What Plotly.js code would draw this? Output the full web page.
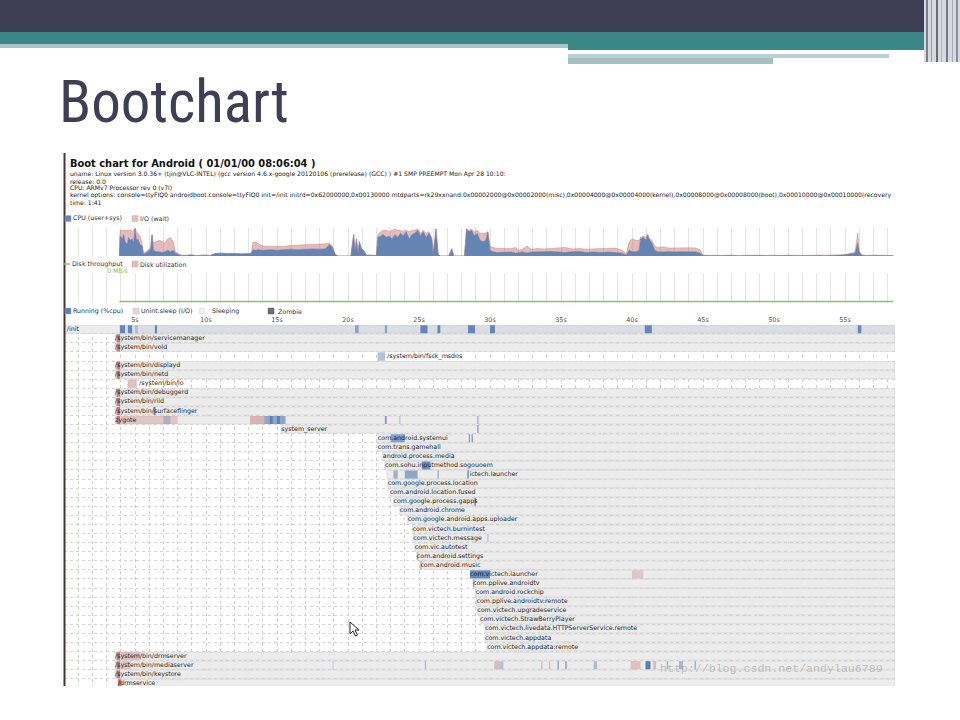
<!DOCTYPE html>
<html><head><meta charset="utf-8">
<script src="https://cdn.plot.ly/plotly-3.0.1.min.js"></script>
<style>html,body{margin:0;padding:0;background:#fff;}#c{width:960px;height:720px;}</style>
</head><body><div id="c"></div>
<script>
// ---------------- DATA ----------------
// CPU chart (seconds, % user+sys, % io wait)
const cpuTime = [
 3.9,3.95,4.1,4.2,4.3,4.45,4.55,4.7,4.8,4.9,
 5.0,5.1,5.2,5.35,5.5,5.6,5.75,5.9,6.1,6.2,
 6.3,6.5,6.7,6.9,7.1,7.3,7.5,7.7,7.85,8.0,
 8.2,8.5,9.0,9.3,9.8,10.3,10.6,11.0,11.5,12.0,
 12.5,13.0,13.2,13.3,13.5,13.7,14.0,14.5,15.0,15.5,
 16.0,16.5,17.0,17.5,18.0,18.4,18.7,18.9,19.1,19.3,
 20.2,20.4,20.5,20.6,20.7,20.8,20.95,21.1,21.3,22.0,
 22.1,22.3,22.5,22.7,22.9,23.1,23.3,23.5,23.7,23.9,
 24.1,24.3,24.5,24.7,24.9,25.1,25.3,25.5,25.7,25.9,
 26.0,26.2,26.35,26.5,27.1,27.3,27.45,28.2,28.35,28.5,
 28.7,28.9,29.1,29.3,29.5,29.7,29.85,30.0,30.2,30.5,
 31.0,31.5,31.8,32.0,32.3,32.6,32.9,33.3,33.8,34.3,
 34.8,35.3,35.8,36.3,36.8,37.3,37.8,38.3,38.8,39.3,
 39.6,39.8,40.0,40.3,40.5,40.6,40.8,41.0,41.1,41.2,
 41.4,41.6,41.8,42.2,42.6,43.0,43.5,44.0,44.5,44.8,
 45.0,45.5,46.0,46.5,47.0,47.5,48.0,48.5,49.0,49.5,
 50.0,50.5,51.0,51.5,52.0,52.5,53.0,53.5,54.0,54.5,
 55.0,55.4,55.7,55.9,56.0,56.2,56.5,57.0,57.5,58.0,58.4];
const cpuUser = [
 0,70,60,75,50,40,65,55,60,45,
 95,55,60,40,35,5,10,15,25,75,
 20,15,15,12,15,20,15,20,10,8,
 3,2,4,1,3,2,8,10,8,9,
 7,8,10,22,20,22,20,22,20,22,
 24,22,24,25,24,25,40,30,5,0,
 0,75,20,60,10,50,25,20,3,2,
 65,70,75,65,70,60,75,65,80,70,
 85,60,75,80,90,70,85,65,80,60,
 5,95,5,0,0,25,0,0,95,85,
 90,70,80,55,50,55,85,20,15,12,
 12,14,10,12,14,10,14,14,15,16,
 14,12,15,16,12,14,12,14,12,10,
 3,20,15,15,20,60,65,55,75,60,
 45,20,15,14,16,14,15,14,14,10,
 2,1,2,1,2,1,2,1,2,1,
 2,1,2,1,2,1,2,1,2,2,
 4,8,10,45,12,3,1,2,1,2,1];
const cpuIO = [
 0,20,30,15,40,50,25,35,25,45,
 5,30,20,30,10,5,5,5,5,0,
 25,35,40,40,30,40,50,30,5,2,
 0,0,0,0,0,0,0,0,1,1,
 1,1,2,25,30,20,15,12,14,12,
 13,16,16,14,16,18,5,5,0,0,
 0,0,0,0,0,0,0,0,0,0,
 10,15,15,25,15,30,20,25,10,15,
 5,25,15,10,5,10,5,15,5,5,
 0,0,0,0,0,0,0,0,0,5,
 5,15,10,25,30,25,0,15,15,15,
 14,12,20,8,10,25,10,12,10,10,
 14,18,10,10,12,12,14,12,16,10,
 5,30,45,40,35,5,5,10,0,5,
 10,15,15,18,12,14,14,15,14,12,
 1,1,0,1,1,0,1,1,0,1,
 1,0,1,1,1,0,1,1,1,1,
 1,2,2,36,4,1,1,1,1,1,1];

// Disk throughput (MB/s)
const diskTime = [3.9, 58.4];
const diskTput = [0, 0];

// Processes
const procNames = [
 "/init","/system/bin/servicemanager","/system/bin/vold","/system/bin/fsck_msdos",
 "/system/bin/displayd","/system/bin/netd","/system/bin/lo","/system/bin/debuggerd",
 "/system/bin/rild","/system/bin/surfaceflinger","zygote","system_server",
 "com.android.systemui","com.trans.gamehall","android.process.media",
 "com.sohu.inputmethod.sogouoem","ictech.launcher","com.google.process.location",
 "com.android.location.fused","com.google.process.gapps","com.android.chrome",
 "com.google.android.apps.uploader","com.victech.burnintest","com.victech.message",
 "com.vic.autotest","com.android.settings","com.android.music","com.victech.launcher",
 "com.pplive.androidtv","com.android.rockchip","com.pplive.androidtv:remote",
 "com.victech.upgradeservice","com.victech.StrawBerryPlayer",
 "com.victech.livedata.HTTPServerService.remote","com.victech.appdata",
 "com.victech.appdata:remote","/system/bin/drmserver","/system/bin/mediaserver",
 "/system/bin/keystore","/drmservice"];
const procStart = [
 0,3.6,3.6,22.1,3.6,3.6,4.5,3.6,3.6,3.6,3.6,15.3,
 22.1,22.1,22.45,22.6,22.75,22.8,22.95,23.2,23.65,24.2,24.55,24.6,24.7,24.85,25.1,
 28.6,28.8,29.0,29.05,29.1,29.3,29.65,29.65,29.8,3.6,3.6,3.6,3.8];
const procEnd = [
 58.5,58.5,58.5,22.6,58.5,58.5,5.1,58.5,58.5,58.5,58.5,58.5,
 58.5,58.5,58.5,58.5,58.5,58.5,58.5,58.5,58.5,58.5,58.5,58.5,58.5,58.5,58.5,
 58.5,58.5,58.5,58.5,58.5,58.5,58.5,58.5,58.5,58.5,58.5,58.5,58.5];
const procLabelTime = [
 0.2,3.6,3.6,22.75,3.6,3.6,5.3,3.6,3.6,3.6,3.6,15.3,
 22.1,22.1,22.45,22.6,28.55,22.8,22.95,23.2,23.65,24.2,24.55,24.6,24.7,24.85,25.1,
 28.6,28.8,29.0,29.05,29.1,29.3,29.65,29.65,29.8,3.6,3.6,3.6,3.8];

// Process state segments: row, start, end, kind (R running / D uninterruptible), intensity
const segRow   = [0,0,0,0,0,0,0,0,0,0,0,0,0, 1,2,4,5,7,8,9, 9,6,3,
  10,10,10,10,10,10,10,10,10,10, 11, 12,12,12, 15, 16,16,16,16, 19, 23, 25, 26, 27,27, 28,
  36,36, 37,37,37,37,37,37,37,37,37,37,37,37,37,37,37,37,37, 38, 39];
const segStart = [3.9,3.94,4.5,5.0,6.4,20.5,22.6,25.1,26.3,28.45,30.0,40.9,55.9,
  3.7,3.7,3.7,3.7,3.7,3.7,3.7, 6.3,4.5,22.1,
  3.7,4.0,7.0,13.1,14.1,14.5,15.0,22.6,23.6,29.1, 29.1, 23.0,28.5,28.7, 25.2,
  23.2,24.0,26.3,28.4, 28.9, 29.8, 24.85, 25.1, 28.6,40.0, 28.8,
  3.7,4.0, 3.7,4.0,18.9,25.4,30.3,30.6,33.6,34.15,34.75,35.3,37.3,39.9,40.95,41.5,42.45,43.3,44.4,
  3.7, 3.8];
const segEnd   = [58.5,4.3,4.8,5.2,6.55,20.75,22.75,25.6,26.5,28.95,30.35,41.4,56.15,
  3.95,3.95,3.95,3.95,3.95,3.95,3.95, 6.45,5.1,22.6,
  3.95,8.0,7.5,14.1,15.6,14.7,15.2,22.72,23.7,29.2, 29.2, 24.0,28.6,28.8, 25.8,
  23.5,24.9,26.4,28.5, 29.0, 29.9, 24.95, 25.2, 30.0,40.8, 28.9,
  3.95,5.4, 3.95,4.7,19.0,25.5,30.6,30.95,33.7,34.25,34.85,35.4,37.55,40.6,41.3,41.7,42.55,43.6,44.5,
  3.95, 4.05];
const segKind  = ["R","R","R","R","R","R","R","R","R","R","R","R","R",
  "D","D","D","D","D","D","D", "R","D","R",
  "D","D","R","D","R","R","R","R","R","R", "R", "R","R","R", "R",
  "R","R","R","R", "R", "R", "D", "D", "R","D", "D",
  "D","D", "D","D","R","R","D","R","D","D","R","R","R","D","R","D","R","R","R",
  "D", "D"];
const segLevel = [0.12,0.85,0.85,0.3,0.85,0.6,0.6,0.85,0.85,0.85,0.85,0.85,0.85,
  0.9,0.9,0.9,0.9,0.9,0.9,0.9, 0.8,0.35,0.35,
  0.9,0.3,0.3,0.45,0.6,0.85,0.85,0.75,0.3,0.5, 0.6, 0.65,0.6,0.6, 0.8,
  0.5,0.6,0.5,0.85, 0.85, 0.3, 0.5, 0.5, 0.85,0.3, 0.6,
  0.9,0.35, 0.9,0.3,0.2,0.4,0.4,0.35,0.4,0.4,0.6,0.7,0.4,0.35,0.95,0.4,0.5,0.45,0.5,
  0.9, 0.9];

const timeTickValues = [5,10,15,20,25,30,35,40,45,50,55];

// ---------------- HELPERS ----------------
const W = 960, H = 720;
const px = v => v / W;
const py = v => 1 - v / H;
const T_END = (895 - 64) / 14.2;
const FONT = 'DejaVu Sans, Verdana, sans-serif';

function txt(text, x, y, size, color, extra) {
  return Object.assign({
    text: text, x: px(x), y: py(y), xref: 'paper', yref: 'paper',
    xanchor: 'left', yanchor: 'middle', showarrow: false,
    font: {family: FONT, size: size, color: color || '#222'}
  }, extra || {});
}
function rect(x0, y0, x1, y1, fill, line) {
  return {type: 'rect', xref: 'paper', yref: 'paper', x0: px(x0), x1: px(x1), y0: py(y1), y1: py(y0),
    fillcolor: fill, line: line || {width: 0}, layer: 'above'};
}
function pathPx(pts) {
  return 'M' + pts.map(p => px(p[0]).toFixed(5) + ',' + py(p[1]).toFixed(5)).join('L') + 'Z';
}

// ---------------- TRACES ----------------
const traces = [];
traces.push({x: cpuTime, y: cpuUser, xaxis: 'x', yaxis: 'y', type: 'scatter', mode: 'lines',
  stackgroup: 'cpu', fillcolor: 'rgb(100,132,180)', line: {color: 'rgb(92,124,172)', width: 0.6}, hoverinfo: 'skip'});
traces.push({x: cpuTime, y: cpuIO, xaxis: 'x', yaxis: 'y', type: 'scatter', mode: 'lines',
  stackgroup: 'cpu', fillcolor: 'rgba(206,132,128,0.55)', line: {color: 'rgba(200,120,118,0.7)', width: 0.6}, hoverinfo: 'skip'});

traces.push({x: diskTime, y: diskTput, xaxis: 'x2', yaxis: 'y2', type: 'scatter', mode: 'lines',
  line: {color: '#86c26e', width: 1.6}, hoverinfo: 'skip'});

const rowIdx = procNames.map((_, i) => i + 0.5);
traces.push({type: 'bar', orientation: 'h', xaxis: 'x3', yaxis: 'y3',
  y: rowIdx, base: procStart, x: procStart.map((s, i) => procEnd[i] - s), width: 0.88,
  marker: {color: '#ececec', line: {color: '#d2d2d2', width: 0.6}}, hoverinfo: 'skip'});
traces.push({type: 'bar', orientation: 'h', xaxis: 'x3', yaxis: 'y3',
  y: segRow.map(r => r + 0.5), base: segStart, x: segStart.map((s, i) => segEnd[i] - s), width: 0.88,
  marker: {color: segKind.map((k, i) => k === 'R'
      ? 'rgba(80,120,180,' + segLevel[i] + ')'
      : 'rgba(200,110,110,' + segLevel[i] + ')'), line: {width: 0}}, hoverinfo: 'skip'});
traces.push({type: 'scatter', mode: 'text', xaxis: 'x3', yaxis: 'y3',
  x: procLabelTime, y: rowIdx, text: procNames, textposition: 'middle right',
  textfont: {family: FONT, size: 6.3, color: '#1e1e1e'}, cliponaxis: false, hoverinfo: 'skip'});

// ---------------- LAYOUT ----------------
const xDom = [px(64), px(895)];
const allSec = [];
for (let s = 1; s <= 58; s++) allSec.push(s);

const shapes = [
  // slide decoration
  rect(0, 0, 960, 32, '#3e3f55'),
  rect(0, 32, 960, 44, '#3b8686'),
  rect(0, 44, 568, 48, '#a6c5c6'),
  rect(568, 44, 960, 50, '#3b8686'),
  rect(568, 50, 889, 53, '#ffffff'),
  rect(568, 54, 889, 58, '#b8d0d1'),
  rect(568, 58, 773, 64, '#a3c1c3'),
  rect(924, 0, 960, 62, '#d7d9de'),
  rect(926, 0, 928, 62, '#7c7e90'),
  rect(931, 0, 932, 62, '#9a9cab'),
  rect(936, 0, 938, 62, '#686a80'),
  rect(941, 0, 942, 62, '#b0b2bf'),
  rect(946, 0, 948, 62, '#75778b'),
  rect(952, 0, 953, 62, '#a8aab8'),
  rect(956, 0, 958, 62, '#8a8c9c'),
  // screenshot left border
  rect(63.5, 153, 65.5, 686, '#4a3232'),
  // CPU legend
  rect(65, 215.5, 71, 221.5, 'rgb(100,132,180)', {color: '#9fb3cf', width: 0.5}),
  rect(132, 215.5, 138, 221.5, 'rgba(206,132,128,0.55)', {color: '#d9b3b3', width: 0.5}),
  // Disk legend
  {type: 'line', xref: 'paper', yref: 'paper', x0: px(64), x1: px(70), y0: py(264), y1: py(264), line: {color: '#86c26e', width: 1.5}},
  rect(132, 261, 138, 267, 'rgba(206,132,128,0.55)', {color: '#d9b3b3', width: 0.5}),
  // Process legend
  rect(65, 308, 71, 314, 'rgb(90,126,180)', {color: '#9fb3cf', width: 0.5}),
  rect(133, 308, 139, 314, '#e8d2d2', {color: '#d8c4c4', width: 0.5}),
  rect(199, 308, 205, 314, '#f0f0f0', {color: '#e0e0e0', width: 0.5}),
  rect(268, 308, 274, 314, '#6e6e6e', {color: '#606060', width: 0.5}),
  // mouse cursor
  {type: 'path', xref: 'paper', yref: 'paper', layer: 'above',
   path: pathPx([[350,622],[350,634],[353,631],[355.5,636],[357.5,635],[355,630],[359,630]]),
   fillcolor: '#ffffff', line: {color: '#222', width: 1}}
];

const annotations = [
  {text: 'Bootchart', x: px(57), y: py(102), xref: 'paper', yref: 'paper', xanchor: 'left', yanchor: 'middle',
   showarrow: false, font: {family: 'Liberation Sans Narrow, Roboto Condensed, Open Sans, sans-serif', size: 59, color: '#3e3f55'}},
  txt('<b>Boot chart for Android ( 01/01/00 08:06:04 )</b>', 68, 163.5, 9.9, '#111'),
  txt('uname: Linux version 3.0.36+ (tjin@VLC-INTEL) (gcc version 4.6.x-google 20120106 (prerelease) (GCC) ) #1 SMP PREEMPT Mon Apr 28 10:10:', 68, 174, 6.1, '#222'),
  txt('release: 0.0', 68, 181, 6.1, '#222'),
  txt('CPU: ARMv7 Processor rev 0 (v7l)', 68, 188, 6.1, '#222'),
  txt('kernel options: console=ttyFIQ0 androidboot.console=ttyFIQ0 init=/init initrd=0x62000000,0x00130000 mtdparts=rk29xxnand:0x00002000@0x00002000(misc),0x00004000@0x00004000(kernel),0x00008000@0x00008000(boot),0x00010000@0x00010000(recovery', 68, 195, 6.1, '#222'),
  txt('time: 1:41', 68, 202, 6.1, '#222'),
  txt('CPU (user+sys)', 71, 218.5, 6.3, '#333'),
  txt('I/O (wait)', 138, 218.5, 6.3, '#333'),
  txt('Disk throughput', 70, 264, 6.3, '#333'),
  txt('Disk utilization', 138, 264, 6.3, '#333'),
  txt('0 MB/s', 105, 270, 6.2, '#7cc060'),
  txt('Running (%cpu)', 71, 311, 6.3, '#333'),
  txt('Unint.sleep (I/O)', 139, 311, 6.3, '#333'),
  txt('Sleeping', 210, 311, 6.3, '#333'),
  txt('Zombie', 276, 311, 6.3, '#333'),
  {text: 'http://blog.csdn.net/andylau6789', x: px(658), y: py(668), xref: 'paper', yref: 'paper',
   xanchor: 'left', yanchor: 'middle', showarrow: false,
   font: {family: 'Liberation Mono, DejaVu Sans Mono, monospace', size: 11.6, color: 'rgba(150,150,150,0.55)'}}
];

const layout = {
  width: W, height: H, margin: {l: 0, r: 0, t: 0, b: 0},
  paper_bgcolor: '#ffffff', plot_bgcolor: 'rgba(0,0,0,0)', showlegend: false, barmode: 'overlay',
  xaxis: {domain: xDom, range: [0, T_END], anchor: 'y', tickvals: allSec, showticklabels: false, ticks: '',
    showgrid: true, gridcolor: '#e4e4e4', gridwidth: 1, zeroline: false, showline: false},
  yaxis: {domain: [py(256), py(227.5)], range: [0, 100], anchor: 'x', tickvals: [100], showticklabels: false,
    ticks: '', showgrid: true, gridcolor: '#ececec', zeroline: false, showline: false},
  xaxis2: {domain: xDom, range: [0, T_END], anchor: 'y2', tickvals: allSec, showticklabels: false, ticks: '',
    showgrid: true, gridcolor: '#e4e4e4', gridwidth: 1, zeroline: false, showline: false},
  yaxis2: {domain: [py(302.5), py(273)], range: [-0.03, 1], anchor: 'x2', showticklabels: false, ticks: '',
    showgrid: false, zeroline: false, showline: false},
  xaxis3: {domain: xDom, range: [0, T_END], anchor: 'y3', side: 'top', tickvals: allSec,
    ticktext: allSec.map(s => timeTickValues.includes(s) ? s + 's' : ''), ticks: '',
    tickfont: {family: FONT, size: 6.4, color: '#555'}, showgrid: true, gridcolor: '#cfcfcf', griddash: 'dot',
    gridwidth: 1, zeroline: false, showline: false},
  yaxis3: {domain: [py(686), py(324.7)], range: [(686 - 324.7) / 9.08, 0], anchor: 'x3',
    tickvals: procNames.map((_, i) => i).concat([procNames.length]), showticklabels: false, ticks: '',
    showgrid: true, gridcolor: '#d6d6d6', griddash: 'dot', gridwidth: 1, zeroline: false, showline: false},
  shapes: shapes,
  annotations: annotations
};

Plotly.newPlot('c', traces, layout, {displayModeBar: false, staticPlot: true});
</script>
</body></html>
